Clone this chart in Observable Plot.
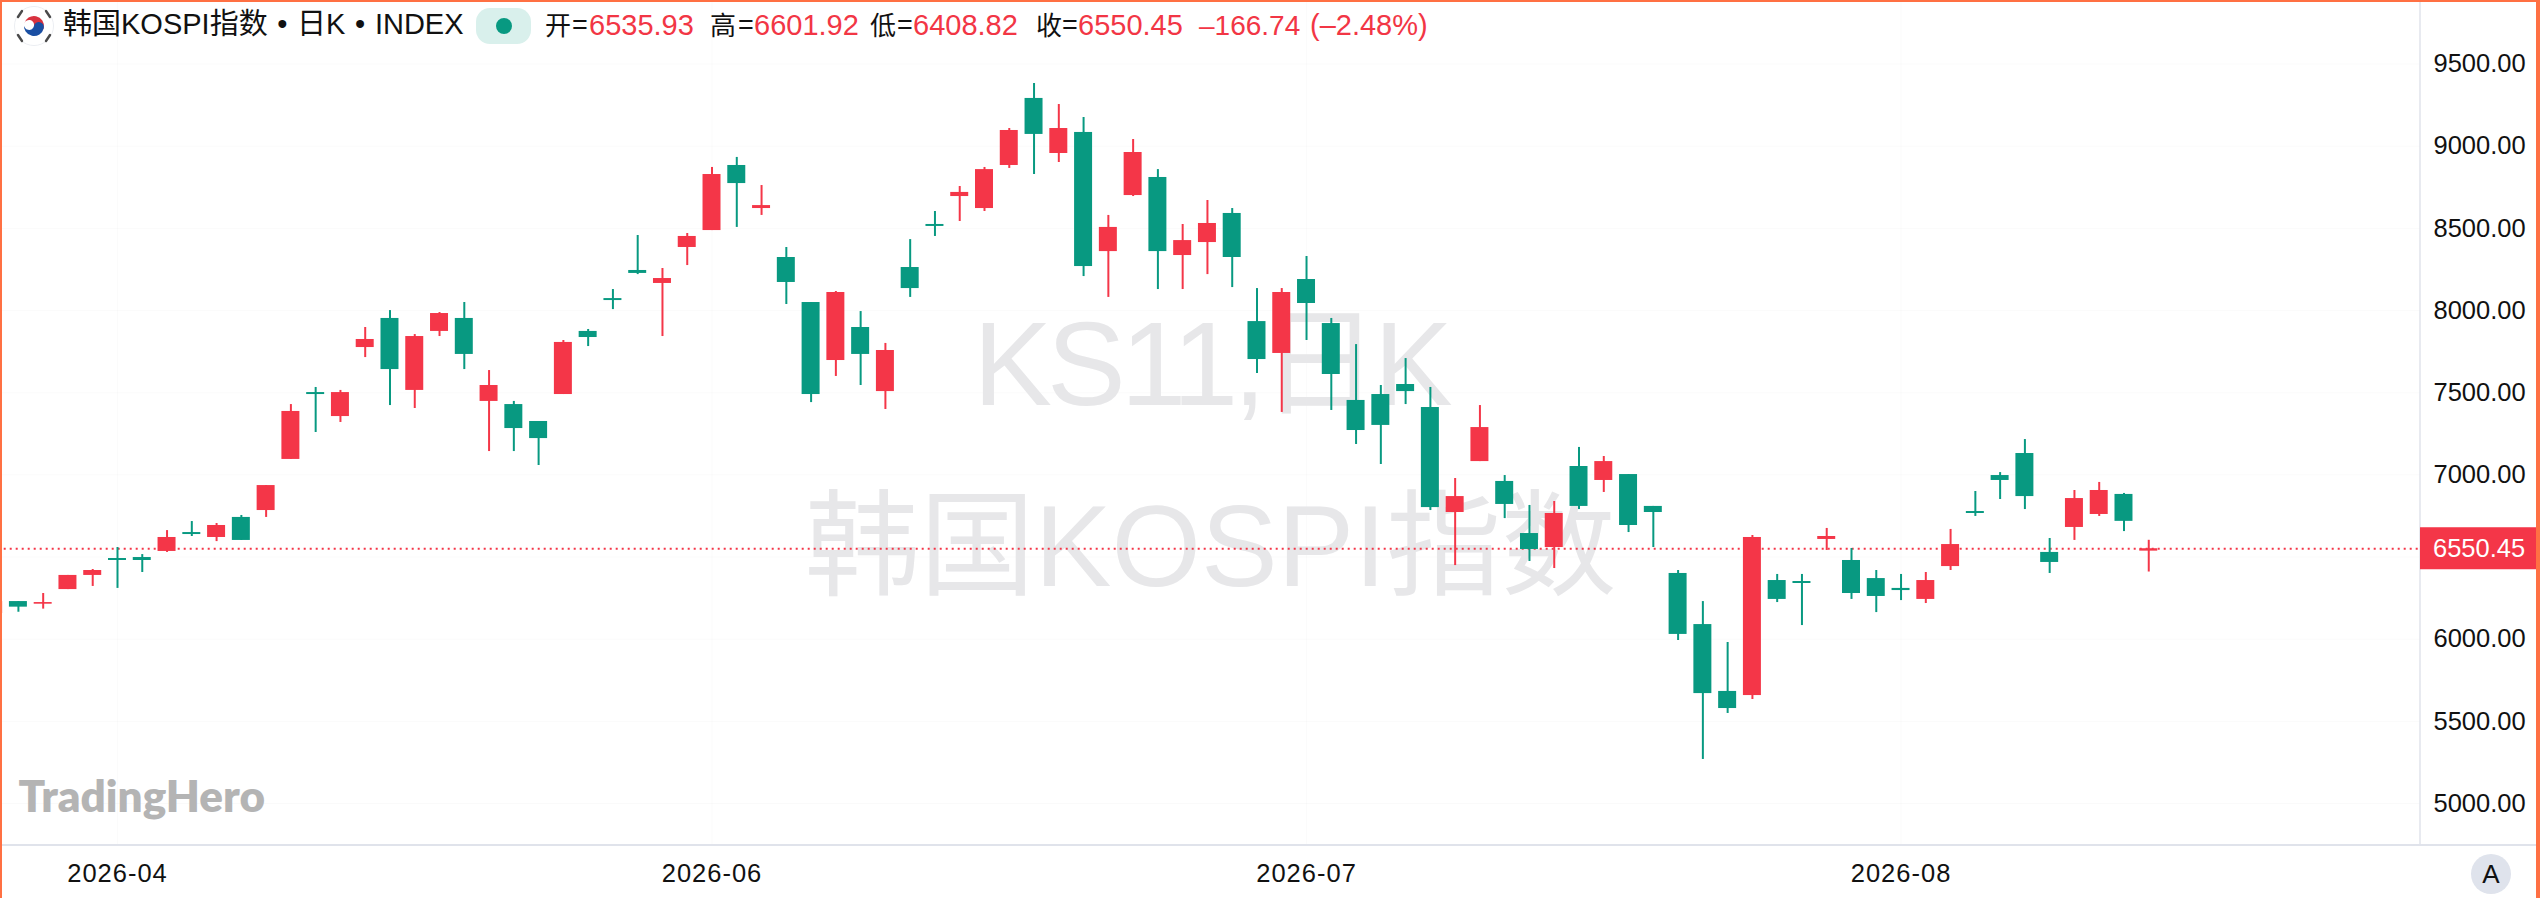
<!DOCTYPE html>
<html lang="zh">
<head>
<meta charset="utf-8">
<script src="https://cdn.jsdelivr.net/npm/d3@7"></script>
<script src="https://cdn.jsdelivr.net/npm/@observablehq/plot@0.6"></script>
<style>
html,body{margin:0;padding:0;background:#fff;overflow:hidden}
body{width:2540px;height:898px;position:relative;font-family:"Liberation Sans","Noto Sans CJK SC",sans-serif;color:#111}
#chart{position:absolute;left:0;top:0}
.abs{position:absolute;white-space:nowrap;line-height:1}
.cjk{font-size:26px;top:13px}
.num{font-size:29px;top:11px;color:#F23645}
.eq{font-size:27px;top:12px}
.edge{position:absolute;background:#FF7043}
.wm1 text{letter-spacing:-5px}
.xlabels text{letter-spacing:1px}
</style>
</head>
<body>
<div id="chart"></div>

<svg class="abs" style="left:14px;top:6px" width="40" height="40" viewBox="-20 -20 40 40">
  <circle r="19.5" fill="#fff" stroke="#eceef2"/>
  <g transform="rotate(12)">
    <path d="M-10,0 A10,10 0 0 1 10,0 A5,5 0 0 1 0,0 A5,5 0 0 0 -10,0Z" fill="#D8323F"/>
    <path d="M-10,0 A5,5 0 0 0 0,0 A5,5 0 0 1 10,0 A10,10 0 0 1 -10,0Z" fill="#1A4FA3"/>
  </g>
  <g stroke="#4a4a4a" stroke-width="2.4" stroke-linecap="round">
    <path d="M-16,-9 L-12,-15"/><path d="M16,-9 L12,-15"/><path d="M-16,9 L-12,15"/><path d="M16,9 L12,15"/>
  </g>
</svg>
<span class="abs" id="ttl" style="left:63px;top:10px;font-size:29px;word-spacing:1.6px">韩国KOSPI指数 • 日K • INDEX</span>
<div class="abs" style="left:476px;top:8px;width:55px;height:36px;border-radius:14px;background:#D9F0EC"></div>
<div class="abs" style="left:496px;top:18px;width:16px;height:16px;border-radius:50%;background:#089981"></div>
<span class="abs cjk" style="left:545px">开</span><span class="abs eq" style="left:572px">=</span><span class="abs num" style="left:589px">6535.93</span>
<span class="abs cjk" style="left:710px">高</span><span class="abs eq" style="left:738px">=</span><span class="abs num" style="left:754px">6601.92</span>
<span class="abs cjk" style="left:870px">低</span><span class="abs eq" style="left:897px">=</span><span class="abs num" style="left:913px">6408.82</span>
<span class="abs cjk" style="left:1036px">收</span><span class="abs eq" style="left:1062px">=</span><span class="abs num" style="left:1078px">6550.45</span>
<span class="abs num" style="left:1199px;font-size:28px;top:12px">–166.74</span>
<span class="abs num" style="left:1310px">(–2.48%)</span>

<div class="abs" style="left:2471px;top:854px;width:40px;height:40px;border-radius:50%;background:#DFE3EC;text-align:center;line-height:40px;font-size:26px">A</div>

<div class="edge" style="left:0;top:0;width:2540px;height:2px"></div>
<div class="edge" style="left:0;top:0;width:2px;height:898px"></div>
<div class="edge" style="left:2535.5px;top:0;width:4.5px;height:898px"></div>

<script>
const UP = "#F43648", DOWN = "#089981";

const opens = [6156,
6229,6213,6302,6388,6491,6497,6534,6649,6619,6741,
6783,7094,7501,7355,7775,7952,7514,7873,7952,7447,
7428,7325,7489,7873,8073,8244,8165,8384,8487,8883,
8621,8323,8049,7696,7897,7507,8262,8524,8694,8621,
8883,9291,8956,9084,8359,8700,8810,8335,8414,8591,
7933,7739,8189,7921,7453,7489,7550,7410,6771,7081,
6960,6643,6558,7051,6966,7002,6808,6400,6089,5682,
5657,6357,6351,6607,6479,6369,6309,6242,6442,6777,
6996,7130,6528,6680,6759,6881,6535.93];

const highs = [6229,
6229,6278,6388,6424,6558,6515,6661,6716,6704,6753,
6935,7428,7532,7514,7897,8000,7854,7988,8049,7635,
7447,7325,7818,7885,8128,8457,8256,8469,8871,8932,
8761,8384,8049,8116,7994,7800,8432,8603,8755,8871,
9108,9382,9254,9175,8579,9041,8858,8524,8670,8621,
8134,8134,8329,7952,7793,7544,7708,7532,6978,7422,
6996,6814,6838,7167,7112,7002,6808,6418,6229,5980,
6631,6394,6394,6674,6552,6418,6394,6406,6668,6899,
7014,7215,6613,6905,6954,6887,6601.92];

const lows = [6156,
6164,6183,6302,6321,6309,6406,6528,6625,6594,6601,
6741,7094,7258,7319,7714,7422,7404,7842,7641,7142,
7142,7057,7489,7781,8006,8219,7842,8274,8487,8506,
8579,8037,7440,7599,7544,7398,8080,8451,8542,8603,
8865,8828,8901,8207,8080,8694,8128,8128,8219,8140,
7617,7380,7818,7392,7185,7063,7428,6783,6448,7081,
6734,6473,6430,6789,6893,6649,6558,5992,5268,5548,
5633,6223,6083,6540,6242,6162,6235,6217,6418,6747,
6850,6789,6400,6601,6747,6655,6408.82];

const closes = [6229,
6195,6223,6388,6418,6479,6479,6619,6637,6692,6601,
6935,7386,7489,7501,7824,7641,7842,7982,7733,7544,
7282,7221,7806,7836,8061,8226,8195,8451,8828,8773,
8639,8171,7489,8110,7733,7757,8134,8512,8719,8858,
9096,9072,9108,8268,8506,8962,8359,8426,8530,8323,
7702,8110,8043,7611,7270,7301,7507,6801,6868,7288,
6820,6546,6765,6808,7081,6692,6771,6029,5669,5578,
6619,6242,6339,6625,6278,6260,6296,6357,6576,6765,
6966,6868,6467,6856,6905,6717.19,6550.45];

const monthIndex = [5, 29, 53, 77];
const monthLabels = ["2026-04", "2026-06", "2026-07", "2026-08"];
const priceTicks = [5000, 5500, 6000, 7000, 7500, 8000, 8500, 9000, 9500];
const gridPrices = [5000, 5500, 6000, 6500, 7000, 7500, 8000, 8500, 9000, 9500];
const lastPrice = 6550.45;
const watermark = ["KS11,日K", "韩国KOSPI指数"];

const rows = opens.map((o, i) => ({i, o, h: highs[i], l: lows[i], c: closes[i]}));
const ups = rows.filter(d => d.c >= d.o), downs = rows.filter(d => d.c < d.o);
const half = 0.363;
const wmFont = '"Liberation Sans","Noto Sans CJK SC",sans-serif';

const chrome = (index, {y}, values, {width, height, marginRight, marginBottom}) => {
  const g = d3.create("svg:g");
  const px = width - marginRight, py = height - marginBottom;
  g.append("line").attr("x1", 2).attr("x2", width).attr("y1", py).attr("y2", py).attr("stroke", "#E0E3EB").attr("stroke-width", 2);
  g.append("line").attr("x1", px).attr("x2", px).attr("y1", 0).attr("y2", py).attr("stroke", "#E0E3EB").attr("stroke-width", 1.5);
  const cy = y(lastPrice);
  g.append("rect").attr("x", px).attr("y", cy - 21).attr("width", 116).attr("height", 42).attr("fill", UP);
  g.append("text").attr("x", px + 13).attr("y", cy).attr("dy", "0.36em").attr("fill", "#fff").attr("text-anchor", "start")
    .attr("font-size", 25.5).attr("font-family", wmFont).text(lastPrice.toFixed(2));
  return g.node();
};

const plot = Plot.plot({
  width: 2540, height: 898,
  marginLeft: 0, marginRight: 120, marginTop: 0, marginBottom: 53,
  style: {background: "transparent", fontFamily: wmFont, color: "#111"},
  x: {domain: [0.277, 97.97], label: null},
  y: {domain: [4744.4, 9887.1], label: null},
  marks: [
    Plot.ruleY(gridPrices, {stroke: "#000", strokeOpacity: 0.02}),
    Plot.ruleX(monthIndex, {stroke: "#000", strokeOpacity: 0.02}),
    Plot.text([watermark[0]], {text: d => d, frameAnchor: "top", dy: 321, fontSize: 118, fill: "#E7E7E9", lineAnchor: "top", fontFamily: wmFont, className: "wm1"}),
    Plot.text([watermark[1]], {text: d => d, frameAnchor: "top", dy: 504, fontSize: 115, fill: "#E7E7E9", lineAnchor: "top", fontFamily: wmFont}),
    Plot.text(["TradingHero"], {text: d => d, frameAnchor: "bottom-left", dx: 18, dy: -34, fontSize: 44, fontWeight: 800, fill: "#B4B4B4", fontFamily: "Lato", textAnchor: "start"}),
    Plot.ruleY([lastPrice], {stroke: UP, strokeWidth: 2, strokeDasharray: "2,4", strokeDashoffset: 2.3}),
    Plot.ruleX(ups, {x: "i", y1: "l", y2: "h", stroke: UP, strokeWidth: 2, clip: true}),
    Plot.ruleX(downs, {x: "i", y1: "l", y2: "h", stroke: DOWN, strokeWidth: 2, clip: true}),
    Plot.rect(ups, {x1: d => d.i - half, x2: d => d.i + half, y1: "o", y2: "c", fill: UP, clip: true}),
    Plot.rect(downs, {x1: d => d.i - half, x2: d => d.i + half, y1: "o", y2: "c", fill: DOWN, clip: true}),
    Plot.axisY({anchor: "right", ticks: priceTicks, tickSize: 0, tickPadding: 13, fontSize: 25.5, label: null, tickFormat: d => d.toFixed(2)}),
    Plot.axisX({anchor: "bottom", ticks: monthIndex, tickSize: 0, tickPadding: 18, fontSize: 25.5, label: null, className: "xlabels", tickFormat: d => monthLabels[monthIndex.indexOf(d)]}),
    chrome
  ]
});
document.getElementById("chart").appendChild(plot);
</script>
</body>
</html>
